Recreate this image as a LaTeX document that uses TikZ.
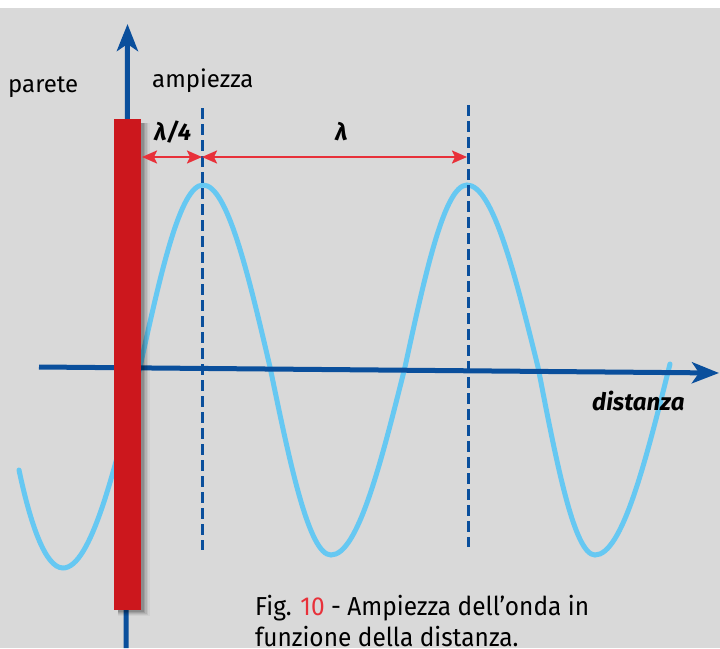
\documentclass[tikz,border=0pt]{standalone}
\usepackage{fontspec}
\setmainfont{Fira Sans}
\usetikzlibrary{arrows.meta}
\definecolor{bg}{HTML}{D9D9D9}
\definecolor{axisblue}{HTML}{0A4F9C}
\definecolor{wavecol}{HTML}{66C8F2}
\definecolor{wallred}{HTML}{CC171D}
\definecolor{dimred}{HTML}{E8313A}
\begin{document}
\begin{tikzpicture}[x=1pt,y=-1pt,
  axis/.style={draw=axisblue,line width=5pt,-{Stealth[length=27pt,width=21pt,inset=7pt]}},
  wave/.style={draw=wavecol,line width=5pt,line cap=round},
  guide/.style={draw=axisblue,line width=3pt,dash pattern=on 11pt off 5pt},
  dim/.style={draw=dimred,line width=2.2pt,{Stealth[length=15pt,width=13pt,inset=3pt]}-{Stealth[length=15pt,width=13pt,inset=3pt]}},
  wall/.style={fill=wallred,draw=none,minimum width=27pt,minimum height=491pt,inner sep=0pt},
  lbl/.style={font=\fontsize{24}{28}\selectfont,inner sep=0pt,anchor=base west},
  blbl/.style={font=\fontsize{24}{28}\selectfont\bfseries\itshape,inner sep=0pt,anchor=base west},
  captext/.style={font=\fontsize{26}{30}\selectfont,inner sep=0pt,anchor=base west,xscale=0.94,transform shape}]
\useasboundingbox (0,0) rectangle (720,648);
\fill[white] (0,0) rectangle (720,8);
\fill[bg] (0,8) rectangle (720,648);
% wave
\draw[wave] (19,470) .. controls (30,522) and (45,568) .. (63,568) cos (140,367) sin (203,185) cos (270,367) sin (331,555) cos (405,367) sin (467,185) cos (538,367) sin (595,555) cos (670,364);
% axes
\coordinate (hstart) at (39,367);
\coordinate (hend) at (719,373);
\draw[axis] (hstart) -- (hend);
\coordinate (vbot) at (126,648);
\coordinate (vtop) at (127.5,24);
\draw[axis] (vbot) -- (vtop);
% guides
\coordinate (g1t) at (202,108);
\coordinate (g1b) at (202,550);
\coordinate (g2t) at (468,105);
\coordinate (g2b) at (468,547);
\draw[guide] (g1t) -- (g1b);
\draw[guide] (g2t) -- (g2b);
% wall with soft shadow
\foreach \d/\o in {9/0.04,7/0.06,5.5/0.08,4/0.1,2.5/0.12}{
  \fill[black,opacity=\o] (118,123) rectangle (141+\d,610+\d*0.7);
}
\node[wall] (wall) at (127.5,364.5) {};
% dimension arrows
\coordinate (a0) at (142,157);
\coordinate (a1) at (202,157);
\coordinate (a2) at (467,157);
\draw[dim] (a0) -- (a1);
\draw[dim] (a1) -- (a2);
% labels
\node[lbl] (parete) at (8,92) {parete};
\node[lbl] (ampiezza) at (152,87) {ampiezza};
\node[blbl] (quarter) at (154,140) {λ/4};
\node[blbl] (lambda) at (335,140) {λ};
\node[blbl] (distanza) at (592,410) {distanza};
\node[captext] (cap1) at (255,615) {Fig. \textcolor{dimred}{10} - Ampiezza dell’onda in};
\node[captext] (cap2) at (255,646) {funzione della distanza.};
\end{tikzpicture}
\end{document}
